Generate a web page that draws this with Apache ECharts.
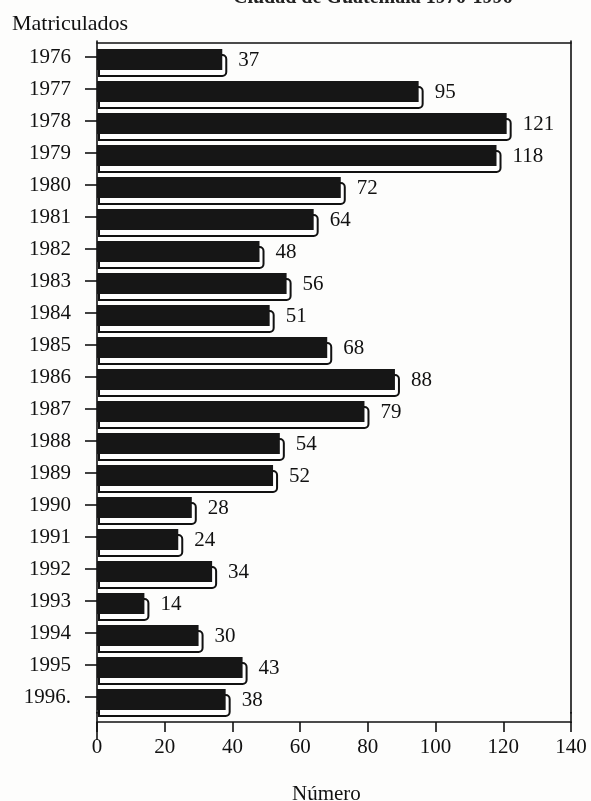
<html>
<head>
    <meta charset="utf-8">
    <title>Matriculados 1976-1996</title>
    <script src="https://cdn.jsdelivr.net/npm/echarts@6/dist/echarts.min.js"></script>
    <style>
        html, body { margin: 0; padding: 0; background: #fdfdfc; }
        #main { width: 591px; height: 801px; }
    </style>
</head>
<body>
<div id="main"></div>
<script type="text/javascript">
    // datos
    var years = ['1976', '1977', '1978', '1979', '1980', '1981', '1982', '1983', '1984', '1985', '1986',
        '1987', '1988', '1989', '1990', '1991', '1992', '1993', '1994', '1995', '1996.'];
    var matriculados = [37, 95, 121, 118, 72, 64, 48, 56, 51, 68, 88, 79, 54, 52, 28, 24, 34, 14, 30, 43, 38];
    var xTicks = [0, 20, 40, 60, 80, 100, 120, 140];

    var serif = '"Liberation Serif", "DejaVu Serif", serif';
    var ink = '#111';

    var myChart = echarts.init(document.getElementById('main'));

    // barra con efecto 3D: cara negra y borde blanco abajo/derecha
    function renderBar(params, api) {
        var v = api.value(0);
        var start = api.coord([0, api.value(1)]);
        var end = api.coord([v, api.value(1)]);
        var h = 21;
        var top = start[1] - 8;
        var w = end[0] - start[0];
        return {
            type: 'group',
            children: [
                {
                    type: 'rect',
                    shape: { x: start[0] + 2, y: top + 6, width: w + 2, height: h, r: [0, 4, 4, 0] },
                    style: { fill: '#fff', stroke: ink, lineWidth: 2 }
                },
                {
                    type: 'rect',
                    shape: { x: start[0], y: top, width: w, height: h },
                    style: { fill: '#161616' }
                },
                {
                    type: 'text',
                    style: {
                        text: String(v),
                        x: end[0] + 16,
                        y: top + h / 2 + 1,
                        verticalAlign: 'middle',
                        font: '21px ' + serif,
                        fill: ink
                    }
                }
            ]
        };
    }

    var option = {
        animation: false,
        backgroundColor: '#fdfdfc',
        title: [
            {
                text: 'Ciudad de Guatemala 1976-1996',
                left: 228, top: -17,
                textStyle: { fontFamily: serif, fontSize: 20, fontWeight: 'bold', color: '#222' }
            },
            {
                text: 'Matriculados',
                left: 7, top: 8,
                textStyle: { fontFamily: serif, fontSize: 22, fontWeight: 'normal', color: ink }
            },
            {
                text: 'Número',
                left: 287, top: 779,
                textStyle: { fontFamily: serif, fontSize: 21, fontWeight: 'normal', color: ink }
            }
        ],
        grid: {
            left: 97,
            right: 20,
            top: 41,
            bottom: 88
        },
        xAxis: [
            {
                type: 'value',
                min: 0,
                max: 140,
                interval: 20,
                offset: 9,
                splitLine: { show: false },
                axisLine: { show: true, onZero: false, lineStyle: { color: ink, width: 1.6 } },
                axisTick: { show: true, length: 10, lineStyle: { color: ink, width: 1.6 } },
                axisLabel: {
                    margin: 15,
                    fontFamily: serif, fontSize: 21, color: ink,
                    formatter: function (val) { return xTicks.indexOf(val) >= 0 ? String(val) : ''; }
                }
            },
            {
                type: 'value',
                position: 'top',
                min: 0,
                max: 140,
                offset: -2,
                splitLine: { show: false },
                axisLine: { show: true, onZero: false, lineStyle: { color: ink, width: 1.6 } },
                axisTick: { show: false },
                axisLabel: { show: false }
            }
        ],
        yAxis: [
            {
                type: 'category',
                data: years,
                inverse: true,
                axisLine: { show: true, onZero: false, lineStyle: { color: ink, width: 1.6 } },
                axisTick: { show: true, alignWithLabel: true, length: 12, lineStyle: { color: ink, width: 1.6 } },
                axisLabel: { margin: 26, fontFamily: serif, fontSize: 21, color: ink }
            },
            {
                type: 'value',
                position: 'right',
                min: 0,
                max: 1,
                offset: 0,
                splitLine: { show: false },
                axisLine: { show: true, onZero: false, lineStyle: { color: ink, width: 1.6 } },
                axisTick: { show: false },
                axisLabel: { show: false }
            }
        ],
        graphic: [
            // prolongacion de los ejes verticales hasta el eje horizontal
            { type: 'line', shape: { x1: 97, y1: 712, x2: 97, y2: 740 }, style: { stroke: ink, lineWidth: 1.6 } },
            { type: 'line', shape: { x1: 571, y1: 712, x2: 571, y2: 723 }, style: { stroke: ink, lineWidth: 1.6 } }
        ],
        series: [
            {
                type: 'custom',
                xAxisIndex: 0,
                yAxisIndex: 0,
                renderItem: renderBar,
                encode: { x: 0, y: 1 },
                data: matriculados.map(function (v, i) { return [v, i]; })
            }
        ]
    };
    myChart.setOption(option);
</script>
</body>
</html>
